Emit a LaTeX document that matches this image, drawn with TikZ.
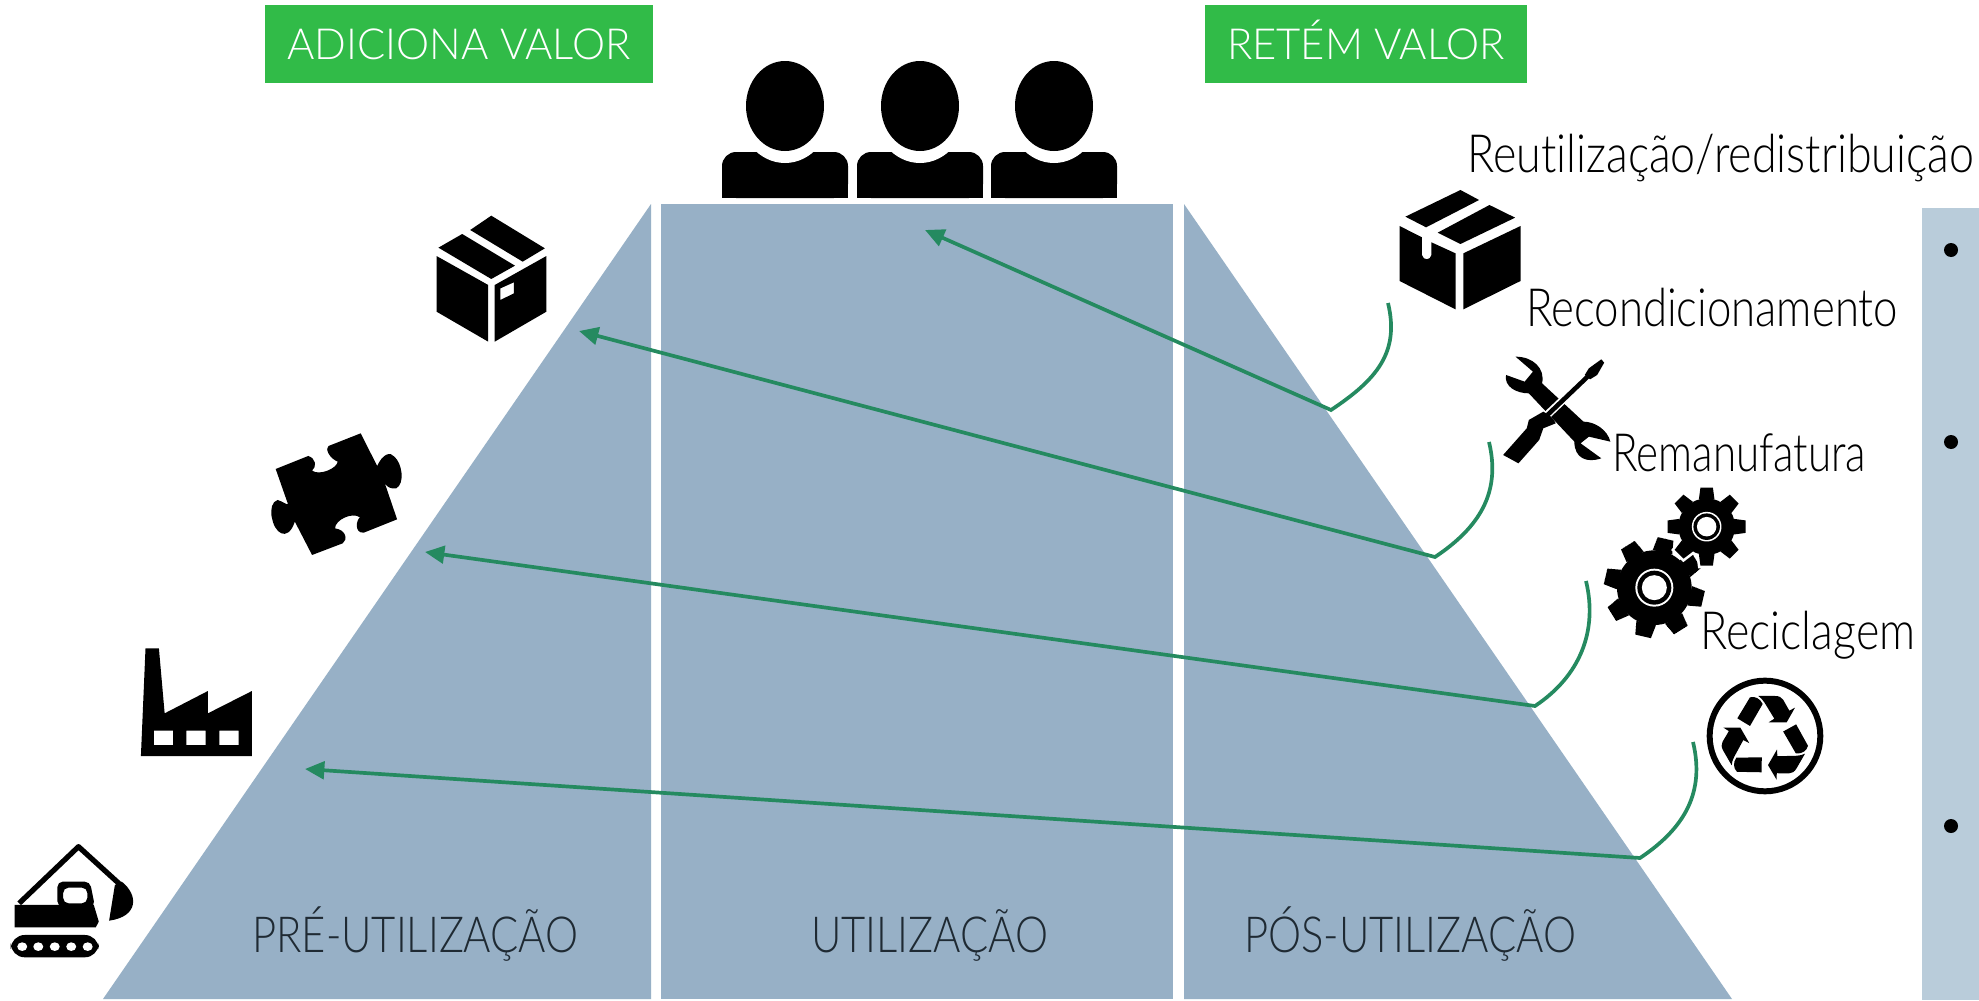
\documentclass[tikz,border=0pt]{standalone}
\usepackage{fontspec}
\setmainfont{Lato Light}[Ligatures=NoCommon]
\newfontfamily\boxfont{Lato Light}[Ligatures=NoCommon,FakeStretch=0.975]
\newfontfamily\stagefont{Lato Light}[Ligatures=NoCommon,FakeStretch=0.84]
\newfontfamily\labelfonta{Lato Light}[Ligatures=NoCommon,FakeStretch=0.85]
\newfontfamily\labelfontb{Lato Light}[Ligatures=NoCommon,FakeStretch=0.83]
\newfontfamily\labelfontc{Lato Light}[Ligatures=NoCommon,FakeStretch=0.80]
\newfontfamily\labelfontd{Lato Light}[Ligatures=NoCommon,FakeStretch=0.85]
\definecolor{pyr}{HTML}{97B0C6}
\definecolor{panel}{HTML}{B9CCDA}
\definecolor{boxg}{HTML}{31BB48}
\definecolor{arrowg}{HTML}{258A60}
\definecolor{labelc}{HTML}{1F2A33}
\usetikzlibrary{arrows.meta}
\tikzset{
  x=0.02cm,y=-0.02cm,
  pyrshape/.style={fill=pyr,draw=none},
  valuebox/.style={fill=boxg,draw=none,text=white,inner sep=0pt,text height=17.5pt,text depth=0pt,font=\boxfont\fontsize{24.4}{30}\selectfont},
  stage/.style={anchor=base west,inner sep=0pt,text=labelc,font=\stagefont\fontsize{28.3}{34}\selectfont},
  rlabel/.style={anchor=base west,inner sep=0pt,text=black},
  flow/.style={draw=arrowg,line width=2.1pt,line join=miter},
  flowtip/.style={-{Triangle[length=11pt,width=10pt]}},
  person/.pic={
    \fill[black,rounded corners=8pt] (-63,46) -- (63,46) -- (63,92) -- (-63,92) -- cycle;
    \fill[black] (-63,70) rectangle (63,92);
    \fill[white] (0,0) ellipse [x radius=48,y radius=57];
    \fill[black] (0,0) ellipse [x radius=39,y radius=45];
  },
}
\newcommand{\gearicon}[6]{% x y outer root rot halo
  \begin{scope}[shift={(#1,#2)}]
    \foreach \a in {0,45,...,315}{
      \filldraw[black,draw=white,line width=#6,rotate=\a+#5] (#4-3,-0.2*#3) -- (#3,-0.16*#3) -- (#3,0.16*#3) -- (#4-3,0.2*#3) -- cycle;
    }
    \foreach \a in {0,45,...,315}{
      \fill[black,rotate=\a+#5] (#4-3,-0.2*#3) -- (#3,-0.16*#3) -- (#3,0.16*#3) -- (#4-3,0.2*#3) -- cycle;
    }
    \fill[black] (0,0) circle (#4);
    \fill[white] (0,0) circle (0.38*#3);
    \fill[black] (0,0) circle (0.34*#3);
    \fill[white] (0,0) circle (0.25*#3);
  \end{scope}
}
\begin{document}
\begin{tikzpicture}
\useasboundingbox (0,0) rectangle (1979,1001);
\fill[white] (0,0) rectangle (1979,1001);
% pyramid
\fill[pyrshape] (103,999) -- (651,204) -- (651,999) -- cycle;
\fill[pyrshape] (661,204) rectangle (1173,999);
\fill[pyrshape] (1184,204) -- (1732,999) -- (1184,999) -- cycle;
% panel
\fill[panel] (1922,208) rectangle (1979,1000);
\foreach \y in {250,442,826}{\fill[black] (1951,\y) circle (7);}
% boxes
\node[valuebox,minimum width=7.76cm,minimum height=1.56cm] (addval) at (459,44) {ADICIONA VALOR};
\node[valuebox,minimum width=6.46cm,minimum height=1.56cm] (keepval) at (1366,44) {RETÉM VALOR};
% people
\pic at (785,106) {person};
\pic at (920,106) {person};
\pic at (1054,106) {person};
% stage labels
\node[stage] (pre) at (252,952) {PRÉ-UTILIZAÇÃO};
\node[stage] (uti) at (811,952) {UTILIZAÇÃO};
\node[stage] (pos) at (1244,952) {PÓS-UTILIZAÇÃO};
% right labels
\node[rlabel,font=\labelfonta\fontsize{30}{36}\selectfont] (l1) at (1467,172) {Reutilização/redistribuição};
\node[rlabel,font=\labelfontb\fontsize{30}{36}\selectfont] (l2) at (1526,326) {Recondicionamento};
\node[rlabel,font=\labelfontc\fontsize{30}{36}\selectfont] (l3) at (1612,471) {Remanufatura};
\node[rlabel,font=\labelfontd\fontsize{30}{36}\selectfont] (l4) at (1700,649) {Reciclagem};
% left box icon and puzzle
\begin{scope}[shift={(0,200)},x=0.007654cm,y=-0.006667cm]
  \fill[black] (1283,47) -- (1423,145) -- (1365,185) -- (1228,90) -- cycle;
  \fill[black] (1207,102) -- (1345,197) -- (1283,237) -- (1145,143) -- cycle;
  \fill[black] (1140,168) -- (1275,255) -- (1275,425) -- (1140,335) -- cycle;
  \fill[black,even odd rule] (1292,255) -- (1427,168) -- (1427,335) -- (1292,425) -- cycle
     (1307,265) -- (1342,247) -- (1342,280) -- (1307,300) -- cycle;
  \fill[black] (720,807) -- (805,768) .. controls (825,775) and (828,800) .. (815,812)
    .. controls (835,828) and (880,805) .. (882,785)
    .. controls (860,775) and (848,745) .. (858,738) -- (942,700) -- (985,798)
    .. controls (1000,760) and (1020,755) .. (1030,770)
    .. controls (1050,790) and (1058,850) .. (1035,865)
    .. controls (1020,868) and (1010,860) .. (1005,850) -- (1037,958) -- (950,998)
    .. controls (925,1000) and (930,960) .. (940,952)
    .. controls (920,935) and (875,960) .. (875,985)
    .. controls (905,990) and (908,1020) .. (895,1030) -- (815,1065) -- (770,965)
    .. controls (760,1000) and (745,1005) .. (735,1000)
    .. controls (710,990) and (695,910) .. (725,900)
    .. controls (740,905) and (748,915) .. (752,912) -- cycle;
\end{scope}
% factory and excavator
\begin{scope}[shift={(0,620)},x=0.007654cm,y=-0.006667cm]
  \fill[black,even odd rule] (380,85) -- (415,85) -- (430,280) -- (543,213) -- (543,280) -- (658,213) -- (658,408) -- (368,408) -- cycle
    (402,332) rectangle (452,375) (487,332) rectangle (537,375) (573,332) rectangle (623,375);
  \draw[black,line width=3pt,line join=round] (50,850) -- (205,680) -- (315,795);
  \fill[black] (300,795) -- (318,785) .. controls (362,825) and (362,890) .. (285,902) -- cycle;
  \fill[black,even odd rule,rounded corners=3pt] (150,860) -- (150,785) -- (235,785) -- (248,860) -- cycle
    (165,803) rectangle (228,850);
  \fill[black] (38,855) -- (245,855) -- (258,905) -- (250,922) -- (38,922) -- cycle;
  \fill[black,rounded corners=8pt] (28,945) rectangle (258,1012);
  \foreach \x in {58,100,143,186,229}{\fill[white] (\x,980) circle (13);}
\end{scope}
% right box and tools
\begin{scope}[shift={(1330,120)},x=0.008278cm,y=-0.006667cm]
  \fill[black] (315,210) -- (360,240) -- (232,322) -- (182,290) -- cycle;
  \fill[black] (385,255) -- (447,293) -- (315,372) -- (260,338) -- cycle;
  \fill[black] (168,318) -- (222,352) -- (222,405) .. controls (225,422) and (242,422) .. (245,405) -- (245,367) -- (303,400) -- (303,568) -- (168,483) -- cycle;
  \fill[black] (322,400) -- (460,318) -- (460,483) -- (322,568) -- cycle;
  % wrench
  \fill[black] (448,710) .. controls (490,710) and (520,745) .. (512,790) -- (612,905)
    .. controls (640,905) and (670,930) .. (677,965) -- (625,950) -- (605,970) -- (655,1015)
    .. controls (620,1030) and (590,1015) .. (590,965) -- (480,820)
    .. controls (450,820) and (420,800) .. (425,765) -- (470,785) -- (490,755) -- cycle;
  % screwdriver
  \draw[white,line width=4.5pt] (622,770) -- (520,890);
  \draw[black,line width=2.6pt] (622,770) -- (525,885);
  \fill[black] (655,718) -- (662,728) -- (645,765) -- (628,778) -- (615,765) -- (625,745) -- cycle;
  \fill[black] (515,875) .. controls (530,885) and (540,895) .. (545,910) -- (515,925) -- (505,960) -- (455,1030) -- (418,1005) -- (475,925) -- (480,900) -- cycle;
\end{scope}
% gears and recycle
\begin{scope}[shift={(1500,480)},x=0.006667cm,y=-0.006667cm]
  \gearicon{463}{323}{150}{112}{77}{0pt}
  \gearicon{620}{140}{117}{85}{0}{3pt}
  \draw[black,line width=3.4pt] (795,768) circle (166);
  \foreach \r in {0,120,240}{
    \begin{scope}[shift={(795,775)},rotate=\r,shift={(-795,-775)}]
      \fill[black] (712,715) -- (750,738) -- (788,672) .. controls (780,655) and (765,648) .. (750,652) -- cycle;
      \fill[black] (775,648) -- (825,648) .. controls (838,648) and (845,652) .. (850,660) -- (868,692) -- (885,683) -- (860,727) -- (806,727) -- (823,716) -- (793,667) .. controls (788,660) and (782,652) .. (775,648) -- cycle;
    \end{scope}
  }
\end{scope}
% flows
\coordinate (s1) at (1388,303); \coordinate (e1) at (1331,410); \coordinate (t1) at (925,230);
\coordinate (s2) at (1489,442); \coordinate (e2) at (1435,557); \coordinate (t2) at (579,331);
\coordinate (s3) at (1586,581); \coordinate (e3) at (1535,706); \coordinate (t3) at (425,552);
\coordinate (s4) at (1693,742); \coordinate (e4) at (1640,858); \coordinate (t4) at (305,769);
\foreach \i in {1,2,3,4}{
  \draw[flow,flowtip] (s\i) .. controls +(12,50) and +(45,-30) .. (e\i) -- (t\i);
}
\end{tikzpicture}
\end{document}
